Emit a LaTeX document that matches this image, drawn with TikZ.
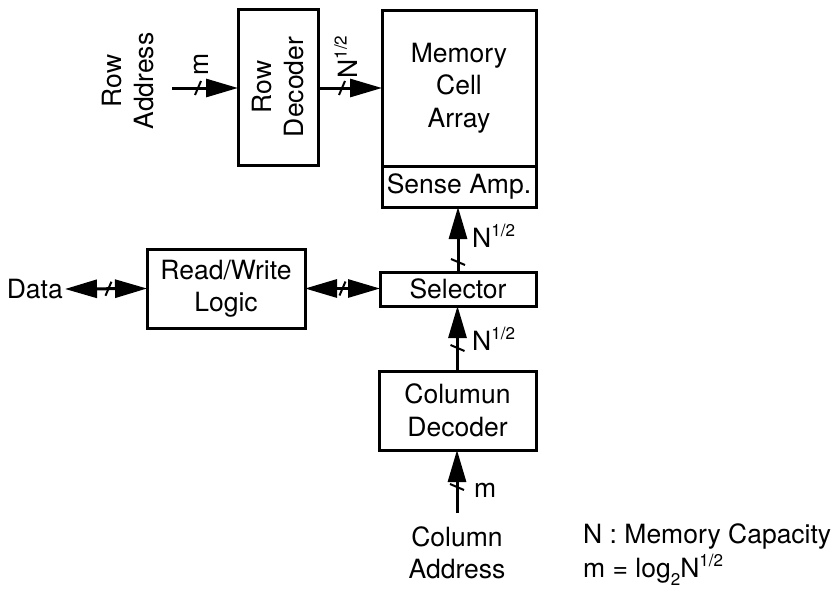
\documentclass[tikz,border=0pt]{standalone}
\usepackage{fontspec}
\setmainfont{TeX Gyre Heros}
\usetikzlibrary{arrows.meta,decorations.markings}
\newcommand{\halfpow}{\raisebox{0.42em}{\fontsize{17}{17}\selectfont 1/2}}
\begin{document}
\begin{tikzpicture}[x=1pt,y=-1pt,
  font=\fontsize{26.5}{32.5}\selectfont,
  blk/.style={draw,line width=3pt,inner sep=0pt,outer sep=0pt,align=center},
  txt/.style={inner sep=0pt,align=center},
  bigtri/.tip={Triangle[length=32pt,width=18pt]},
  arr/.style={line width=3pt,-bigtri},
  darr/.style={line width=3pt,bigtri-bigtri},
  slashat/.style={postaction={decorate},decoration={markings,
     mark=at position #1 with {\draw[line width=2pt,-] (-3pt,-7pt)--(3pt,7pt);}}}]
\useasboundingbox (0,0) rectangle (839,597);

% blocks
\node[blk,minimum width=80,minimum height=156] (rd) at (278,87) {};
\node[txt,rotate=90] at (rd.center) {Row\\Decoder};
\node[blk,minimum width=154,minimum height=156] (mem) at (459,88) {Memory\\Cell\\Array};
\node[blk,minimum width=154,minimum height=41,anchor=north] (sa) at (mem.south) {Sense Amp.};
\node[blk,minimum width=156,minimum height=34] (sel) at (458,289) {Selector};
\node[blk,minimum width=158,minimum height=79] (rw) at (226,288.5) {Read/Write\\Logic};
\node[blk,minimum width=157,minimum height=79] (cd) at (457.5,410.5) {Columun\\Decoder};

% texts
\node[txt,rotate=90] (ra) at (128,81) {Row\\Address};
\node[txt,anchor=east] (data) at (63,289) {Data};
\node[txt] (ca) at (457,553) {Column\\Address};
\coordinate (rain) at (172,88);
\coordinate (cain) at (457,513);

% connectors
\draw[arr,slashat=26pt] (rain) -- (rd.west |- rain);
\draw[arr,slashat=24pt] (rd.east |- rain) -- (mem.west |- rain);
\draw[arr,slashat=10pt] (sel.north) -- (sel.north |- sa.south);
\draw[arr,slashat=23pt] (cd.north) -- (cd.north |- sel.south);
\draw[arr,slashat=26pt] (cain) -- (cain |- cd.south);
\draw[darr,slashat=0.53] ([xshift=2pt]data.east) -- (rw.west);
\draw[darr,slashat=0.5] (rw.east) -- (sel.west |- rw.east);

% labels
\node[txt,rotate=90] (lm1) at (201,64) {m};
\node[txt,rotate=90] (ln1) at (346,57) {N\halfpow};
\node[txt,anchor=west] (ln2) at (472,236) {N\halfpow};
\node[txt,anchor=west] (ln3) at (472,339) {N\halfpow};
\node[txt,anchor=west] (lm2) at (474,490) {m};

% legend
\node[txt,anchor=west] (leg1) at (583,536) {N : Memory Capacity};
\node[txt,anchor=west] (leg2) at (583,570) {m = log\raisebox{-0.3em}{\fontsize{17}{17}\selectfont 2}N\halfpow};
\end{tikzpicture}
\end{document}
